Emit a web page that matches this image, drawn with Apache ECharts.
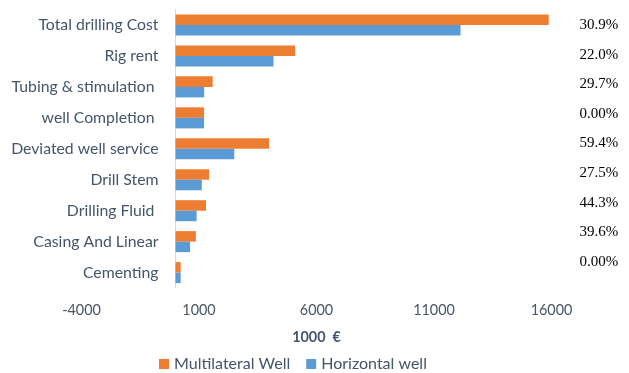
<!DOCTYPE html>
<html>
<head>
<meta charset="utf-8">
<script src="https://cdn.jsdelivr.net/npm/echarts@6/dist/echarts.min.js"></script>
<style>
  html, body { margin: 0; padding: 0; background: #fff; }
  #chart { width: 629px; height: 373px; }
</style>
</head>
<body>
<div id="chart"></div>
<script>
// Cost items, listed top to bottom
const categories = [
  'Total drilling Cost',
  'Rig rent',
  'Tubing & stimulation ',
  'well Completion ',
  'Deviated well service',
  'Drill Stem',
  'Drilling Fluid ',
  'Casing And Linear',
  'Cementing'
];

// Costs in thousands of euros
const multilateralWell = [15880, 5087, 1582, 1215, 3985, 1428, 1299, 866, 220];
const horizontalWell   = [12130, 4170, 1220, 1215, 2500, 1120,  900, 620, 220];

// Relative increase of the multilateral well over the horizontal well
const increaseLabels = ['30.9%', '22.0%', '29.7%', '0.00%', '59.4%', '27.5%', '44.3%', '39.6%', '0.00%'];

// Value-axis tick labels
const tickValues = [-4000, 1000, 6000, 11000, 16000];

const textColor = '#44546a';
const font = 'Lato';

// Value-axis range and plot edges
const xMin = -4000;
const xMax = 16000;
const plotLeft = 81.5;
const plotRight = 77.5;
const plotWidth = 629 - plotLeft - plotRight;
// Shift that puts the category axis on the zero line
const zeroShift = plotWidth * (0 - xMin) / (xMax - xMin);

const chart = echarts.init(document.getElementById('chart'), null, { renderer: 'canvas' });

chart.setOption({
  animation: false,
  textStyle: { fontFamily: font },
  legend: {
    top: 351,
    left: 154,
    icon: 'rect',
    itemWidth: 10,
    itemHeight: 10,
    itemGap: 16,
    textStyle: { color: textColor, fontSize: 16, fontFamily: font },
    data: ['Multilateral Well', 'Horizontal well']
  },
  grid: [
    { left: plotLeft, right: plotRight, top: 9.5, height: 278.6, containLabel: false, outerBoundsMode: 'none' },
    { left: plotLeft, right: plotRight, top: 10.2, height: 266.4, containLabel: false, outerBoundsMode: 'none' }
  ],
  xAxis: [
    {
      type: 'value',
      gridIndex: 0,
      min: xMin,
      max: xMax,
      splitLine: { show: false },
      axisLine: { show: false },
      axisTick: { show: false },
      axisLabel: {
        customValues: tickValues,
        formatter: v => String(v),
        color: '#4a5566',
        fontSize: 14.4,
        fontFamily: font,
        margin: 15
      },
      name: '1000  €',
      nameLocation: 'middle',
      nameGap: 42,
      nameTextStyle: { color: textColor, fontSize: 14.4, fontWeight: 'bold', fontFamily: font }
    },
    {
      type: 'value',
      gridIndex: 1,
      min: xMin,
      max: xMax,
      show: false
    }
  ],
  yAxis: [
    {
      type: 'category',
      gridIndex: 0,
      inverse: true,
      data: categories,
      offset: -zeroShift,
      axisLine: { show: true, onZero: false, lineStyle: { color: '#d9d9d9', width: 1 } },
      axisTick: { show: false },
      axisLabel: { color: textColor, fontSize: 15.8, fontFamily: font, margin: 17 }
    },
    {
      type: 'category',
      gridIndex: 1,
      position: 'right',
      inverse: true,
      data: increaseLabels,
      axisLine: { show: false },
      axisTick: { show: false },
      axisLabel: {
        color: '#000',
        fontSize: 15,
        fontFamily: 'Liberation Serif',
        align: 'left',
        margin: 28
      }
    }
  ],
  series: [
    {
      name: 'Multilateral Well',
      type: 'bar',
      xAxisIndex: 0,
      yAxisIndex: 0,
      data: multilateralWell,
      barGap: '0%',
      barCategoryGap: '32%',
      itemStyle: { color: '#ed7d31' }
    },
    {
      name: 'Horizontal well',
      type: 'bar',
      xAxisIndex: 0,
      yAxisIndex: 0,
      data: horizontalWell,
      barGap: '0%',
      barCategoryGap: '32%',
      itemStyle: { color: '#5b9bd5' }
    }
  ]
});
</script>
</body>
</html>
